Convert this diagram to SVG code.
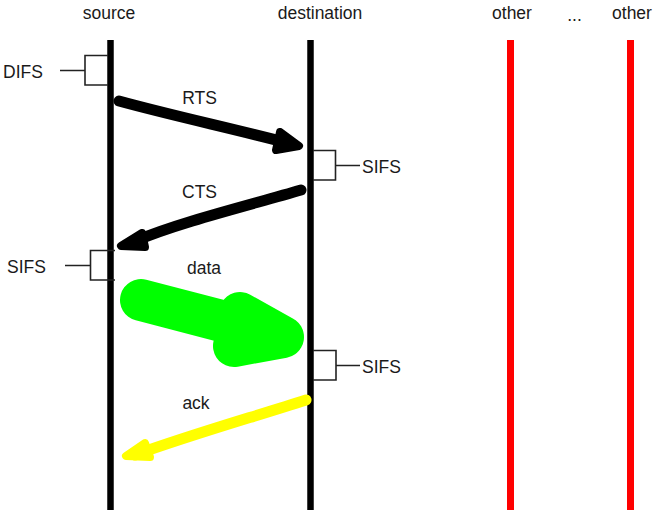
<svg xmlns="http://www.w3.org/2000/svg" width="671" height="515" viewBox="0 0 671 515">
<style>
text{font-family:"Liberation Sans",Arial,sans-serif;font-size:17.5px;fill:#1a1a1a}
.life{stroke:#000;stroke-width:6.5}
.other{stroke:#ff0000;stroke-width:7}
.br{fill:none;stroke:#222;stroke-width:1.6}
.sk{fill:none;stroke-linecap:round;stroke-linejoin:round}
</style>
<rect width="671" height="515" fill="#fff"/>
<g id="source">
<line class="life" x1="110.5" y1="40" x2="110.5" y2="510"/>
<text x="109" y="19" text-anchor="middle">source</text>
</g>
<g id="destination">
<line class="life" x1="310.5" y1="40" x2="310.5" y2="510"/>
<text x="320" y="19" text-anchor="middle">destination</text>
</g>
<g id="other1">
<line class="other" x1="510.5" y1="40" x2="510.5" y2="510"/>
<text x="512" y="19" text-anchor="middle">other</text>
</g>
<g id="dots">
<text x="574.5" y="21" text-anchor="middle">...</text>
</g>
<g id="other2">
<line class="other" x1="630.5" y1="40" x2="630.5" y2="510"/>
<text x="632" y="19" text-anchor="middle">other</text>
</g>
<g id="difs">
<path class="br" d="M108,55.5 H85 V85 H108 M85,70.5 H60"/>
<text x="3" y="78">DIFS</text>
</g>
<g id="sifs1">
<path class="br" d="M313,150.5 H335.5 V180 H313 M335.5,165.5 H360"/>
<text x="362" y="173">SIFS</text>
</g>
<g id="sifs2">
<path class="br" d="M115,250.5 H90.5 V280 H115 M90.5,265.5 H65"/>
<text x="7" y="273">SIFS</text>
</g>
<g id="sifs3">
<path class="br" d="M313,350.5 H336 V380 H313 M336,365.5 H360"/>
<text x="362" y="373">SIFS</text>
</g>
<g id="connectors">
<path class="sk" stroke="#000" stroke-width="11" d="M119,101 C170,115 230,128 288,143"/>
<path class="sk" fill="#000" stroke="#000" stroke-width="8" d="M280,132 L299,146 L276,150 Z"/>
<path class="sk" stroke="#000" stroke-width="11" d="M301,190 C250,205 180,222 135,241"/>
<path class="sk" fill="#000" stroke="#000" stroke-width="8" d="M142,233 L121,246 L145,247 Z"/>
<path class="sk" stroke="#00ff00" stroke-width="42" d="M141,300 L283,337 M240,313 L283,337 L234,346"/>
<path class="sk" stroke="#ffff00" stroke-width="11" d="M306,400 C250,418 190,435 135,455"/>
<path class="sk" fill="#ffff00" stroke="#ffff00" stroke-width="8" d="M145,443 L126,456 L150,457 Z"/>
</g>
<g id="labels">
<text x="199.5" y="104" text-anchor="middle">RTS</text>
<text x="199.5" y="198" text-anchor="middle">CTS</text>
<text x="204" y="274" text-anchor="middle">data</text>
<text x="196" y="409" text-anchor="middle">ack</text>
</g>
</svg>
